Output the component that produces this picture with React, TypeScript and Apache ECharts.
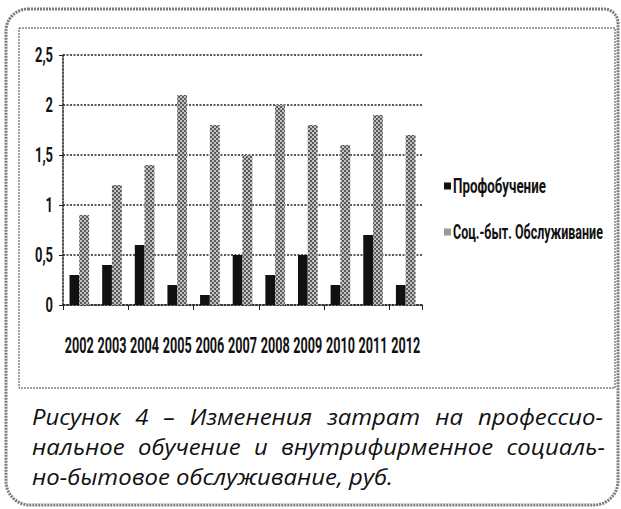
import React, { useEffect, useRef } from "react";
import * as echarts from "echarts";

const years = ["2002", "2003", "2004", "2005", "2006", "2007", "2008", "2009", "2010", "2011", "2012"];
const profTraining = [0.3, 0.4, 0.6, 0.2, 0.1, 0.5, 0.3, 0.5, 0.2, 0.7, 0.2];
const socialService = [0.9, 1.2, 1.4, 2.1, 1.8, 1.5, 2.0, 1.8, 1.6, 1.9, 1.7];
const yTicks = [0, 0.5, 1, 1.5, 2, 2.5];
const seriesNames = ["Профобучение", "Соц.-быт. Обслуживание"];
const captionLines = [
  "Рисунок 4 – Изменения затрат на профессио-",
  "нальное обучение и внутрифирменное социаль-",
  "но-бытовое обслуживание, руб.",
];

const COND_FAMILY = "Roboto, sans-serif";
const CAPTION_FAMILY = '"Open Sans", "Noto Sans", sans-serif';
const CAPTION_SIZE = 21;

function measure(text: string, font: string): number {
  const ctx = document.createElement("canvas").getContext("2d");
  if (!ctx) return text.length * 10;
  ctx.font = font;
  return ctx.measureText(text).width;
}

function condText(text: string, x: number, y: number, size: number, scaleX: number, align: string) {
  return {
    type: "text",
    x,
    y,
    scaleX,
    silent: true,
    style: {
      text,
      fill: "#111",
      fontFamily: COND_FAMILY,
      fontWeight: "bold",
      fontSize: size,
      align,
      verticalAlign: "middle",
    },
  };
}

function captionElements() {
  const font = `italic ${CAPTION_SIZE}px ${CAPTION_FAMILY}`;
  const left = 32;
  const rights = [603, 605, 0];
  const centers = [417, 447, 477];
  const s = (393 - left) / measure(captionLines[2], font);
  const els: any[] = [];
  captionLines.forEach((line, i) => {
    const style = {
      fill: "#111",
      fontStyle: "italic",
      fontSize: CAPTION_SIZE,
      fontFamily: CAPTION_FAMILY,
      verticalAlign: "middle",
      align: "left",
    };
    if (!rights[i]) {
      els.push({ type: "text", x: left, y: centers[i], scaleX: s, silent: true, style: { ...style, text: line } });
      return;
    }
    const words = line.split(" ");
    const widths = words.map((w) => measure(w, font) * s);
    const total = widths.reduce((a, b) => a + b, 0);
    const gap = (rights[i] - left - total) / (words.length - 1);
    let x = left;
    words.forEach((w, j) => {
      els.push({ type: "text", x, y: centers[i], scaleX: s, silent: true, style: { ...style, text: w } });
      x += widths[j] + gap;
    });
  });
  return els;
}

export default function App() {
  const ref = useRef<HTMLDivElement>(null);
  useEffect(() => {
    if (!ref.current) return;
    const chart = echarts.init(ref.current, undefined, { renderer: "svg" });
    const dotted = { type: [2, 1.5] as any, color: "#222", width: 1.5 };
    chart.setOption({
      animation: false,
      backgroundColor: "#ffffff",
      grid: { left: 63, right: 199, top: 55, bottom: 204, containLabel: false },
      legend: { show: false, data: seriesNames },
      xAxis: {
        type: "category",
        data: years,
        axisLine: { lineStyle: dotted },
        axisTick: { show: true, length: 5, lineStyle: { color: "#222", width: 1 } },
        axisLabel: { show: false },
      },
      yAxis: {
        type: "value",
        min: 0,
        max: 2.5,
        interval: 0.5,
        axisLine: { show: true, lineStyle: dotted },
        axisTick: { show: true, length: 4, lineStyle: { color: "#222", width: 1 } },
        splitLine: { show: true, lineStyle: dotted },
        axisLabel: { show: false },
      },
      series: [
        {
          name: seriesNames[0],
          type: "bar",
          data: profTraining,
          barWidth: "30%",
          barGap: "0%",
          itemStyle: { color: "#111111" },
        },
        {
          name: seriesNames[1],
          type: "bar",
          data: socialService,
          barWidth: "30%",
          barGap: "0%",
          itemStyle: {
            color: "#c2c2c2",
            decal: {
              symbol: "rect",
              symbolSize: 1,
              color: "#5a5a5a",
              dashArrayX: [[2, 2], [0, 2, 2, 0]],
              dashArrayY: [2, 0],
              rotation: 0,
            },
          },
        },
      ],
    });

    const xSize = 22;
    const xScale = 29 / measure("2002", `bold ${xSize}px ${COND_FAMILY}`);
    const axisEls: any[] = [];
    years.forEach((yr) => {
      const px = chart.convertToPixel({ xAxisIndex: 0 }, yr) as number;
      axisEls.push(condText(yr, px, 345, xSize, xScale, "center"));
    });
    const ySize = 20;
    const yScale = 18 / measure("2,5", `bold ${ySize}px ${COND_FAMILY}`);
    const gridLeft = 63;
    yTicks.forEach((v) => {
      const py = chart.convertToPixel({ yAxisIndex: 0 }, v) as number;
      axisEls.push(condText(String(v).replace(".", ","), gridLeft - 10, py, ySize, yScale, "right"));
    });

    const legSize = 21;
    const legFont = `bold ${legSize}px ${COND_FAMILY}`;
    const legScales = [93 / measure(seriesNames[0], legFont), 150 / measure(seriesNames[1], legFont)];
    const legY = [186, 232];
    const legendEls: any[] = [];
    seriesNames.forEach((name, i) => {
      legendEls.push({
        type: "rect",
        silent: true,
        shape: { x: 444, y: legY[i] - 3.5, width: 7, height: 7 },
        style: { fill: i === 0 ? "#111" : "#9a9a9a" },
      });
      legendEls.push(condText(name, 453, legY[i], legSize, legScales[i], "left"));
    });

    chart.setOption({
      graphic: [
        {
          type: "rect",
          z: 100,
          silent: true,
          shape: { x: 6, y: 9, width: 612, height: 496, r: [22, 14, 24, 24] },
          style: { fill: "none", stroke: "#7a7a7a", lineWidth: 3, lineDash: [2, 1] },
        },
        {
          type: "rect",
          z: 100,
          silent: true,
          shape: { x: 19, y: 28, width: 596, height: 360 },
          style: { fill: "none", stroke: "#444", lineWidth: 1, lineDash: [2, 1] },
        },
        ...axisEls,
        ...legendEls,
        ...captionElements(),
      ],
    });
    return () => chart.dispose();
  }, []);
  return <div ref={ref} style={{ position: "fixed", left: 0, top: 0, width: 621, height: 509 }} />;
}
